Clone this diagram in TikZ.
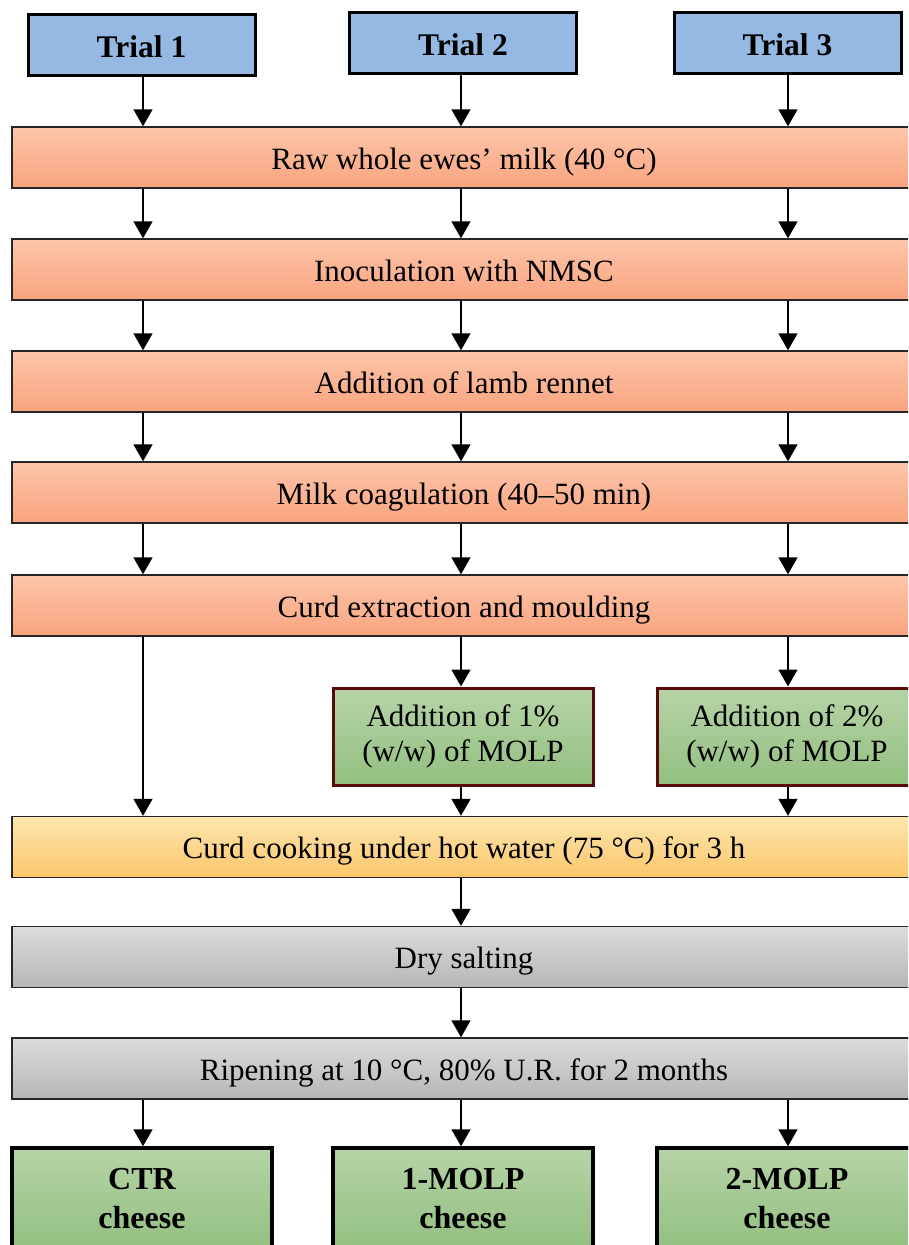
\documentclass[tikz,border=0pt]{standalone}
\usepackage{fontspec}
\setmainfont{Liberation Serif}
\usetikzlibrary{arrows.meta}
\definecolor{trialblue}{HTML}{95B9E3}
\definecolor{salmonT}{HTML}{FDC5AA}
\definecolor{salmonB}{HTML}{F9A47E}
\definecolor{greenT}{HTML}{B6D4A7}
\definecolor{greenB}{HTML}{92BF80}
\definecolor{yellowT}{HTML}{FDE6AE}
\definecolor{yellowB}{HTML}{FBC66C}
\definecolor{grayT}{HTML}{DCDCDC}
\definecolor{grayB}{HTML}{B6B6B6}
\definecolor{darkred}{HTML}{5A0A0A}
\tikzset{
  trialbox/.style={draw=black, line width=3pt, fill=trialblue, minimum width=227pt, minimum height=61pt, inner sep=0pt, text height=25.4pt, text depth=0pt, font=\fontsize{31.5}{35}\selectfont\bfseries},
  widebox/.style={draw=black!85, line width=1.4pt, minimum width=904pt, minimum height=61pt, inner sep=0pt, text height=23.6pt, text depth=0pt, font=\fontsize{31}{35}\selectfont},
  salmonbox/.style={widebox, top color=salmonT, bottom color=salmonB},
  yellowbox/.style={widebox, top color=yellowT, bottom color=yellowB},
  graybox/.style={widebox, top color=grayT, bottom color=grayB},
  molpbox/.style={draw=darkred, line width=3pt, top color=greenT, bottom color=greenB, minimum width=260pt, minimum height=97pt, inner sep=0pt, align=center, font=\fontsize{31}{35}\selectfont},
  cheesebox/.style={draw=black, line width=3.4pt, top color=greenT, bottom color=greenB, minimum width=260pt, minimum height=102pt, inner sep=0pt, align=center, font=\fontsize{32}{39}\selectfont\bfseries},
  arr/.style={line width=1.5pt, -{Triangle[width=19pt,length=17pt]}}
}
\begin{document}
\begin{tikzpicture}[x=1pt, y=-1pt]
\useasboundingbox (0,0) rectangle (908,1245);
\clip (0,0) rectangle (908,1245);
\fill[white] (0,0) rectangle (908,1245);
\coordinate (c1) at (143,0);
\coordinate (c2) at (461,0);
\coordinate (c3) at (788,0);
% trial boxes
\node[trialbox] (t1) at (141.5,45) {Trial 1};
\node[trialbox] (t2) at (463,43) {Trial 2};
\node[trialbox] (t3) at (787.5,43) {Trial 3};
% process boxes
\node[salmonbox] (raw) at (464,157.5) {Raw whole ewes’ milk (40 °C)};
\node[salmonbox] (inoc) at (464,269.5) {Inoculation with NMSC};
\node[salmonbox] (rennet) at (464,381.5) {Addition of lamb rennet};
\node[salmonbox] (coag) at (464,492.5) {Milk coagulation (40–50 min)};
\node[salmonbox] (curd) at (464,605.5) {Curd extraction and moulding};
\node[molpbox] (m1) at (463,736.5) {Addition of 1\%\\(w/w) of MOLP};
\node[molpbox] (m2) at (787,736.5) {Addition of 2\%\\(w/w) of MOLP};
\node[yellowbox] (cook) at (464,847) {Curd cooking under hot water (75 °C) for 3 h};
\node[graybox] (salt) at (464,957) {Dry salting};
\node[graybox] (ripe) at (464,1068.5) {Ripening at 10 °C, 80\% U.R. for 2 months};
\node[cheesebox] (ctr) at (142,1199) {CTR\\cheese};
\node[cheesebox] (ch1) at (463,1199) {1-MOLP\\cheese};
\node[cheesebox] (ch2) at (787,1199) {2-MOLP\\cheese};
% arrows
\draw[arr] (t1.south -| c1) -- (raw.north -| c1);
\draw[arr] (t2.south -| c2) -- (raw.north -| c2);
\draw[arr] (t3.south -| c3) -- (raw.north -| c3);
\foreach \a/\b in {raw/inoc, inoc/rennet, rennet/coag, coag/curd}{
  \draw[arr] (\a.south -| c1) -- (\b.north -| c1);
  \draw[arr] (\a.south -| c2) -- (\b.north -| c2);
  \draw[arr] (\a.south -| c3) -- (\b.north -| c3);
}
\draw[arr] (curd.south -| c1) -- (cook.north -| c1);
\draw[arr] (curd.south -| c2) -- (m1.north -| c2);
\draw[arr] (curd.south -| c3) -- (m2.north -| c3);
\draw[arr] (m1.south -| c2) -- (cook.north -| c2);
\draw[arr] (m2.south -| c3) -- (cook.north -| c3);
\draw[arr] (cook.south -| c2) -- (salt.north -| c2);
\draw[arr] (salt.south -| c2) -- (ripe.north -| c2);
\draw[arr] (ripe.south -| c1) -- (ctr.north -| c1);
\draw[arr] (ripe.south -| c2) -- (ch1.north -| c2);
\draw[arr] (ripe.south -| c3) -- (ch2.north -| c3);
\end{tikzpicture}
\end{document}
